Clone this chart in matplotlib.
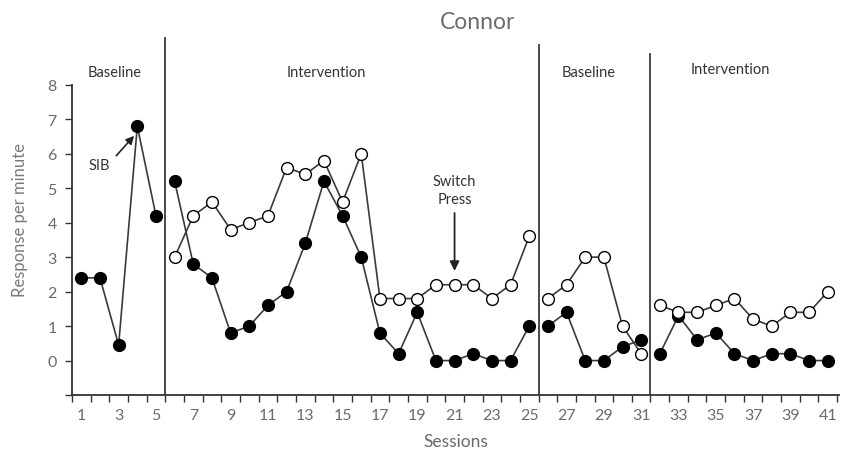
import matplotlib
matplotlib.use("Agg")
import matplotlib.pyplot as plt
import numpy as np

plt.rcParams['font.family'] = ['Lato', 'DejaVu Sans']

# Data
sessions = list(range(1, 42))
sib = [2.4, 2.4, 0.45, 6.8, 4.2,
       5.2, 2.8, 2.4, 0.8, 1.0, 1.6, 2.0, 3.4, 5.2, 4.2, 3.0, 0.8, 0.2, 1.4, 0.0,
       0.0, 0.2, 0.0, 0.0, 1.0,
       1.0, 1.4, 0.0, 0.0, 0.4, 0.6,
       0.2, 1.3, 0.6, 0.8, 0.2, 0.0, 0.2, 0.2, 0.0, 0.0]
switch = [None, None, None, None, None,
          3.0, 4.2, 4.6, 3.8, 4.0, 4.2, 5.6, 5.4, 5.8, 4.6, 6.0, 1.8, 1.8, 1.8, 2.2,
          2.2, 2.2, 1.8, 2.2, 3.6,
          1.8, 2.2, 3.0, 3.0, 1.0, 0.2,
          1.6, 1.4, 1.4, 1.6, 1.8, 1.2, 1.0, 1.4, 1.4, 2.0]
phase_bounds = [(1, 5), (6, 25), (26, 31), (32, 41)]
phase_lines = [5.5, 25.5, 31.5]
phase_line_tops = [9.35, 9.15, 8.9]
phase_labels = ["Baseline", "Intervention", "Baseline", "Intervention"]
phase_label_x = [2.8, 14.15, 28.2, 35.8]
phase_label_y = [8.38, 8.38, 8.38, 8.46]
yticks = list(range(0, 9))
xtick_labels = list(range(1, 42, 2))

fig = plt.figure(figsize=(8.41, 4.60), dpi=100)
ax = fig.add_axes([0.0856, 0.139, 0.912, 0.787])

line_col = '#3a3a3a'
for (a, b) in phase_bounds:
    xs = [s for s in sessions if a <= s <= b]
    ys = [sib[s - 1] for s in xs]
    ax.plot(xs, ys, color=line_col, lw=1.2, marker='o', ms=8.5,
            mfc='black', mec='black', zorder=3)
    yo = [switch[s - 1] for s in xs]
    pts = [(x, y) for x, y in zip(xs, yo) if y is not None]
    if pts:
        px, py = zip(*pts)
        ax.plot(px, py, color=line_col, lw=1.2, marker='o', ms=8.5,
                mfc='white', mec='black', mew=1.0, zorder=4)

for xl, top in zip(phase_lines, phase_line_tops):
    ax.plot([xl, xl], [-1, top], color='#3a3a3a', lw=1.3, zorder=2)

for lab, x, y in zip(phase_labels, phase_label_x, phase_label_y):
    ax.text(x, y, lab, ha='center', va='center', fontsize=10.5, color='#333333')

ax.set_xlim(0.5, 41.6)
ax.set_ylim(-1, 9.5)

for s in ['top', 'right']:
    ax.spines[s].set_visible(False)
ax.spines['left'].set_bounds(-1, 8)
ax.spines['bottom'].set_position(('data', -1))
ax.spines['left'].set_color('#333333')
ax.spines['bottom'].set_color('#333333')
ax.spines['left'].set_linewidth(1.3)
ax.spines['bottom'].set_linewidth(1.3)

ax.set_yticks([-1] + yticks)
ax.set_yticklabels([''] + [str(v) for v in yticks])
ax.set_xticks(np.arange(0.5, 42, 1.0), minor=False)
ax.set_xticklabels([])
ax.set_xticks(xtick_labels, minor=True)
ax.set_xticklabels([str(v) for v in xtick_labels], minor=True)
ax.tick_params(axis='x', which='major', length=5, direction='out', color='#333333', width=1.0)
ax.tick_params(axis='x', which='minor', length=0, pad=9, labelsize=11.5, labelcolor='#6b6b6b')
ax.tick_params(axis='y', length=5, direction='out', color='#333333', width=1.0,
               labelsize=11.5, labelcolor='#6b6b6b', pad=6)

ax.set_xlabel('Sessions', fontsize=12.5, color='#6b6b6b', labelpad=8)
fig.text(0.024, 0.522, 'Response per minute', rotation=90, ha='center', va='center',
         fontsize=12, color='#7a7a7a')
fig.text(0.568, 0.952, 'Connor', ha='center', va='center', fontsize=16.5, color='#6b6b6b')

# Annotations
ax.text(1.96, 5.68, 'SIB', ha='center', va='center', fontsize=10.5, color='#333333')
ax.annotate('', xy=(3.83, 6.52), xytext=(2.87, 5.94),
            arrowprops=dict(arrowstyle='-|>', color='#222222', lw=1.2, mutation_scale=12,
                            shrinkA=0, shrinkB=0))
ax.text(21.0, 4.95, 'Switch\nPress', ha='center', va='center', fontsize=10.5,
        color='#333333', linespacing=1.3)
ax.annotate('', xy=(21.0, 2.6), xytext=(21.0, 4.28),
            arrowprops=dict(arrowstyle='-|>', color='#222222', lw=1.3, mutation_scale=14,
                            shrinkA=0, shrinkB=0))

fig.savefig('out.png', dpi=100)
